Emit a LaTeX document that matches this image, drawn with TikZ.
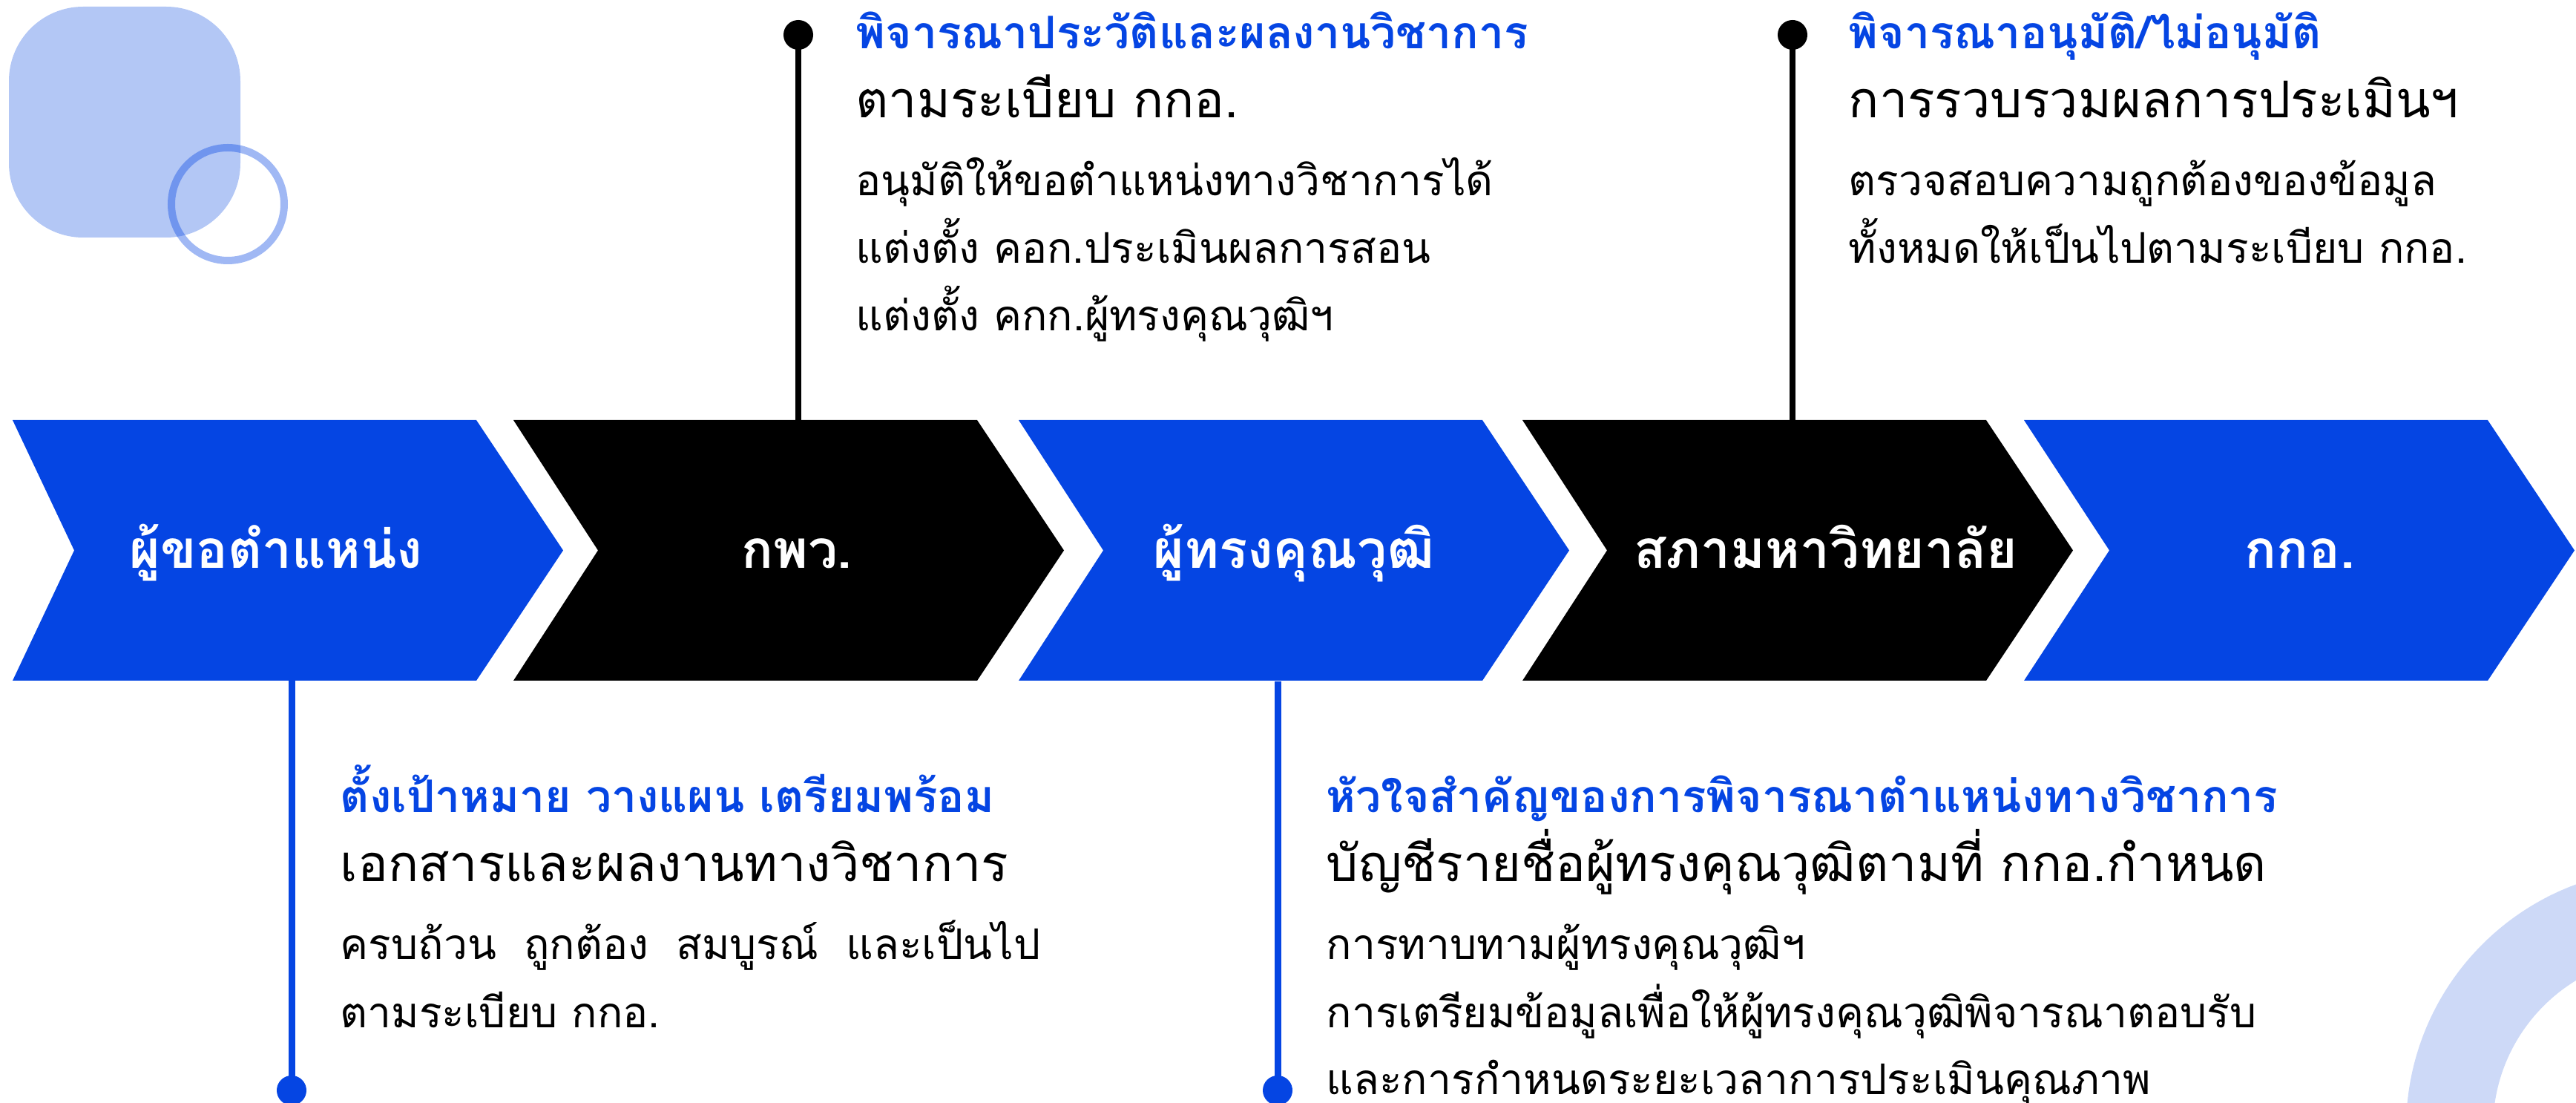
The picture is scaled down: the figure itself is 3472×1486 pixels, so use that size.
\documentclass[tikz,border=0pt]{standalone}
\usepackage{fontspec}
\newfontfamily\thai[Script=Thai]{Loma}
\definecolor{tblue}{HTML}{0545E3}
\definecolor{sqblue}{HTML}{B3C7F5}
\definecolor{arcblue}{HTML}{CDD9F7}
\newcommand\fsz[1]{\fontsize{#1}{#1}\selectfont}
\newcommand\wsp{\ \hspace{0.18cm}}
\tikzset{
  chevlabel/.style={text=white,font=\thai\bfseries\fsz{20.2pt},inner sep=0pt,anchor=base},
  headtxt/.style={text=tblue,font=\thai\bfseries\fsz{17.2pt},inner sep=0pt,anchor=base west},
  bigtxt/.style={text=black,font=\thai\fsz{19.4pt},inner sep=0pt,anchor=base west},
  bodytxt/.style={text=black,font=\thai\fsz{16.2pt},inner sep=0pt,anchor=base west},
  blackdot/.style={circle,fill=black,inner sep=0pt,minimum size=0.4cm},
  bluedot/.style={circle,fill=tblue,inner sep=0pt,minimum size=0.4cm},
  blackline/.style={draw=black,line width=0.08cm},
  blueline/.style={draw=tblue,line width=0.09cm},
}
\newcommand\chev[3]{\path[fill=#3] (#1,566) -- ++(625,0) -- ++(117,175.5) -- ++(-117,175.5) -- ++(-625,0) -- ++(#2,-175.5) -- cycle;}
\begin{document}
\begin{tikzpicture}[x=0.01cm,y=-0.01cm]
\useasboundingbox (0,0) rectangle (3472,1486);
\begin{scope}
\clip (0,0) rectangle (3472,1486);
% decorations
\fill[sqblue,rounded corners=1cm] (12,9) rectangle (324,320);
\draw[tblue,draw opacity=0.38,line width=0.1cm] (307,275) circle[radius=76];
\draw[arcblue,line width=1.17cm] (3593,1520) circle[radius=291.5];
% chevrons
\chev{17}{83}{tblue}
\chev{692}{114}{black}
\chev{1373}{114}{tblue}
\chev{2052}{114}{black}
\chev{2728}{115}{tblue}
\node[chevlabel] (c1) at (372,766) {ผู้ขอตำแหน่ง};
\node[chevlabel] (c2) at (1074,766) {กพว.};
\node[chevlabel] (c3) at (1744,766) {ผู้ทรงคุณวุฒิ};
\node[chevlabel] (c4) at (2461,766) {สภามหาวิทยาลัย};
\node[chevlabel] (c5) at (3100,766) {กกอ.};
% connectors
\coordinate (t2) at (1076,567);
\coordinate (t4) at (2416,567);
\coordinate (b1) at (393,916);
\coordinate (b3) at (1722,918);
\node[blackdot] (d2) at (1076,47) {};
\node[blackdot] (d4) at (2416,47) {};
\node[bluedot] (d1) at (393,1469) {};
\node[bluedot] (d3) at (1722,1469) {};
\draw[blackline] (d2.center) -- (t2);
\draw[blackline] (d4.center) -- (t4);
\draw[blueline] (b1) -- (d1.center);
\draw[blueline] (b3) -- (d3.center);
% top middle text
\node[headtxt] (h2) at (1153,66) {พิจารณาประวัติและผลงานวิชาการ};
\node[bigtxt] (h2a) at (1153,159) {ตามระเบียบ กกอ.};
\node[bodytxt] (h2b) at (1153,264) {อนุมัติให้ขอตำแหน่งทางวิชาการได้};
\node[bodytxt] (h2c) at (1153,355) {แต่งตั้ง คอก.ประเมินผลการสอน};
\node[bodytxt] (h2d) at (1153,446) {แต่งตั้ง คกก.ผู้ทรงคุณวุฒิฯ};
% top right text
\node[headtxt] (h4) at (2491,66) {พิจารณาอนุมัติ/ไม่อนุมัติ};
\node[bigtxt] (h4a) at (2491,159) {การรวบรวมผลการประเมินฯ};
\node[bodytxt] (h4b) at (2491,264) {ตรวจสอบความถูกต้องของข้อมูล};
\node[bodytxt] (h4c) at (2491,355) {ทั้งหมดให้เป็นไปตามระเบียบ กกอ.};
% bottom left text
\node[headtxt] (h1) at (458,1095) {ตั้งเป้าหมาย วางแผน เตรียมพร้อม};
\node[bigtxt] (h1a) at (458,1188) {เอกสารและผลงานทางวิชาการ};
\node[bodytxt] (h1b) at (458,1292) {ครบถ้วน\wsp ถูกต้อง\wsp สมบูรณ์\wsp และเป็นไป};
\node[bodytxt] (h1c) at (458,1384) {ตามระเบียบ กกอ.};
% bottom right text
\node[headtxt] (h3) at (1787,1095) {หัวใจสำคัญของการพิจารณาตำแหน่งทางวิชาการ};
\node[bigtxt] (h3a) at (1787,1188) {บัญชีรายชื่อผู้ทรงคุณวุฒิตามที่ กกอ.กำหนด};
\node[bodytxt] (h3b) at (1787,1292) {การทาบทามผู้ทรงคุณวุฒิฯ};
\node[bodytxt] (h3c) at (1787,1384) {การเตรียมข้อมูลเพื่อให้ผู้ทรงคุณวุฒิพิจารณาตอบรับ};
\node[bodytxt] (h3d) at (1787,1474) {และการกำหนดระยะเวลาการประเมินคุณภาพ};
\end{scope}
\end{tikzpicture}
\end{document}
